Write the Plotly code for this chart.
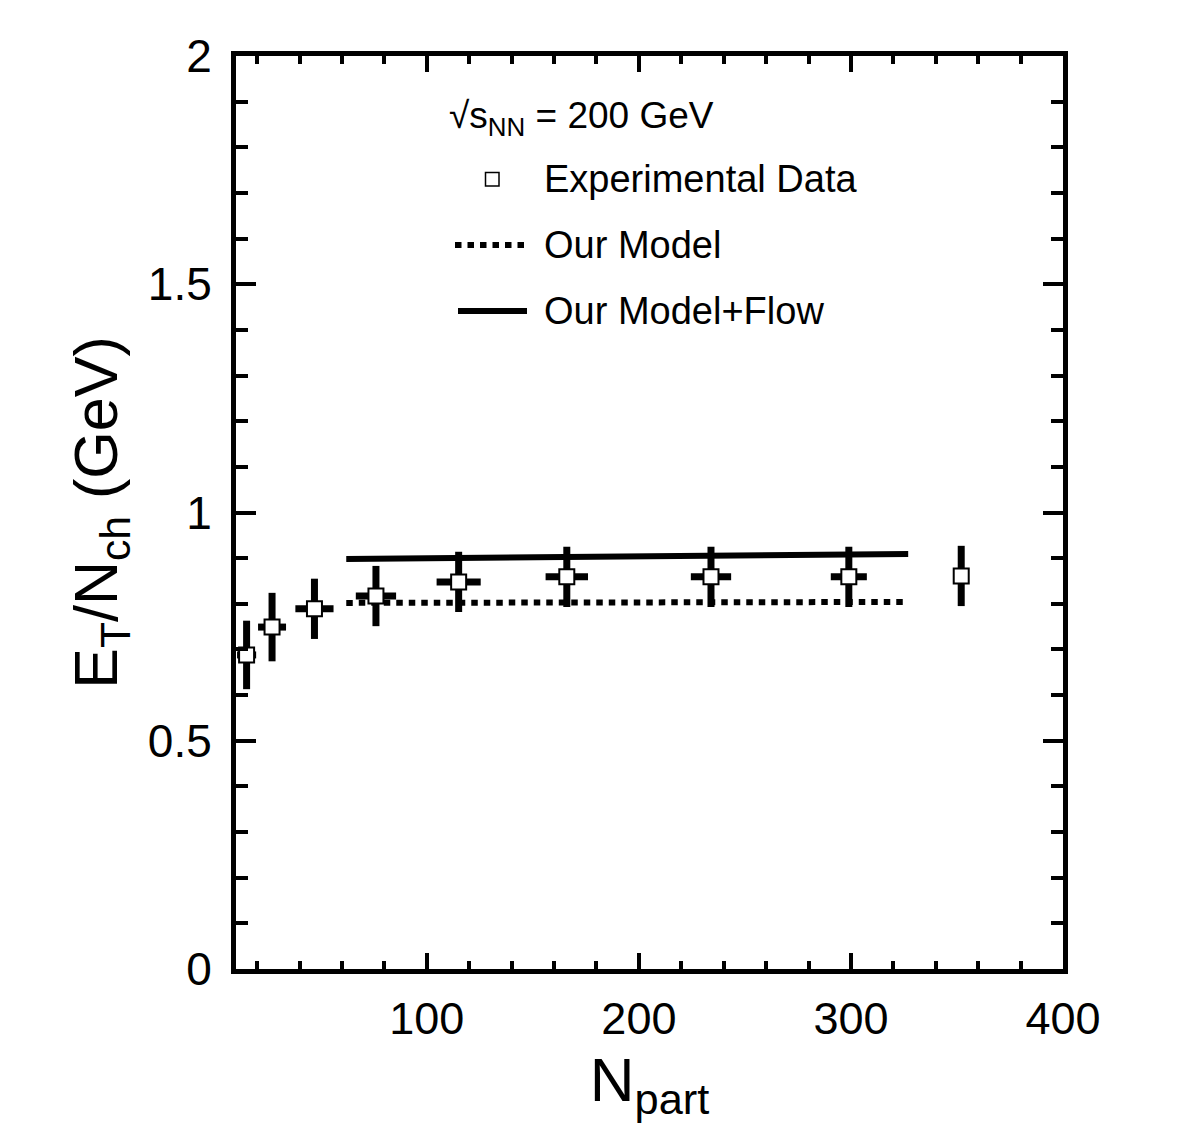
import plotly.graph_objects as go

# ---- data ----
npart = [15, 27, 47, 76, 115, 166, 234, 299, 352]
et_nch = [0.688, 0.749, 0.789, 0.817, 0.848, 0.859, 0.859, 0.859, 0.861]
et_err = [0.075, 0.075, 0.066, 0.066, 0.066, 0.066, 0.066, 0.066, 0.066]
npart_err = [4.5, 6.6, 9.0, 9.5, 10.4, 10.0, 9.5, 8.5, 3.0]

model_x = [62, 327]
model_y = [0.802, 0.804]
flow_x = [62, 327]
flow_y = [0.898, 0.909]

FONT = "Liberation Sans, Arial, Helvetica, sans-serif"

fig = go.Figure()

fig.add_trace(go.Scatter(
    x=model_x, y=model_y, mode="lines", name="Our Model",
    line=dict(color="black", width=6, dash="6.5px,6px"),
    showlegend=False,
))
fig.add_trace(go.Scatter(
    x=flow_x, y=flow_y, mode="lines", name="Our Model+Flow",
    line=dict(color="black", width=6),
    showlegend=False,
))
fig.add_trace(go.Scatter(
    x=npart, y=et_nch, mode="markers", name="Experimental Data",
    marker=dict(symbol="square", size=15, color="white",
                line=dict(color="black", width=2)),
    error_y=dict(type="data", array=et_err, visible=True,
                 thickness=7, width=0, color="black"),
    error_x=dict(type="data", array=npart_err, visible=True,
                 thickness=7, width=0, color="black"),
    showlegend=False,
))

# plot area in pixels
L, R, T, B = 236, 1063, 56, 969
W, H = R - L, B - T


def px(x):
    return (x - L) / W


def py(y):
    return (B - y) / H


shapes = []
annotations = []

# legend (manual)
annotations.append(dict(
    x=px(447), y=py(118), xref="paper", yref="paper", xanchor="left", yanchor="middle",
    text="√s<sub>NN</sub> = 200 GeV", showarrow=False,
    font=dict(family=FONT, size=37, color="black")))
shapes.append(dict(type="rect", xref="paper", yref="paper",
                   x0=px(485.5), x1=px(499), y0=py(172.5), y1=py(186),
                   line=dict(color="black", width=1.5), fillcolor="white"))
shapes.append(dict(type="line", xref="paper", yref="paper",
                   x0=px(455), x1=px(526), y0=py(245), y1=py(245),
                   line=dict(color="black", width=6, dash="6.5px,6px")))
shapes.append(dict(type="line", xref="paper", yref="paper",
                   x0=px(458), x1=px(527), y0=py(311), y1=py(311),
                   line=dict(color="black", width=6)))
for txt, yy in [("Experimental Data", 179), ("Our Model", 245), ("Our Model+Flow", 311)]:
    annotations.append(dict(
        x=px(542), y=py(yy), xref="paper", yref="paper", xanchor="left", yanchor="middle",
        text=txt, showarrow=False, font=dict(family=FONT, size=38, color="black")))

fig.update_layout(
    width=1182, height=1142,
    margin=dict(l=L, r=1182 - R, t=T, b=1142 - B),
    paper_bgcolor="white", plot_bgcolor="white",
    font=dict(family=FONT, color="black"),
    shapes=shapes, annotations=annotations,
    showlegend=False,
)

fig.update_xaxes(
    range=[10, 400], showgrid=False, zeroline=False,
    showline=True, linewidth=5, linecolor="black", mirror="ticks",
    ticks="inside", tickwidth=4, ticklen=16, tickcolor="black",
    tickmode="linear", tick0=0, dtick=100,
    minor=dict(ticks="inside", dtick=20, tick0=0, ticklen=8, tickwidth=4, tickcolor="black"),
    tickfont=dict(family=FONT, size=45, color="black"),
    ticklabelstandoff=6,
    title=dict(text="N<sub>part</sub>", font=dict(family=FONT, size=62, color="black"), standoff=16),
)
fig.update_yaxes(
    range=[0, 2], showgrid=False, zeroline=False,
    showline=True, linewidth=5, linecolor="black", mirror="ticks",
    ticks="inside", tickwidth=4, ticklen=20, tickcolor="black",
    tickmode="linear", tick0=0, dtick=0.5,
    minor=dict(ticks="inside", dtick=0.1, tick0=0, ticklen=12, tickwidth=4, tickcolor="black"),
    tickfont=dict(family=FONT, size=46, color="black"),
    ticklabelstandoff=10,
    title=dict(text="E<sub>T</sub>/N<sub>ch</sub> (GeV)", font=dict(family=FONT, size=61, color="black"), standoff=12),
)

fig.write_html("out.html")
